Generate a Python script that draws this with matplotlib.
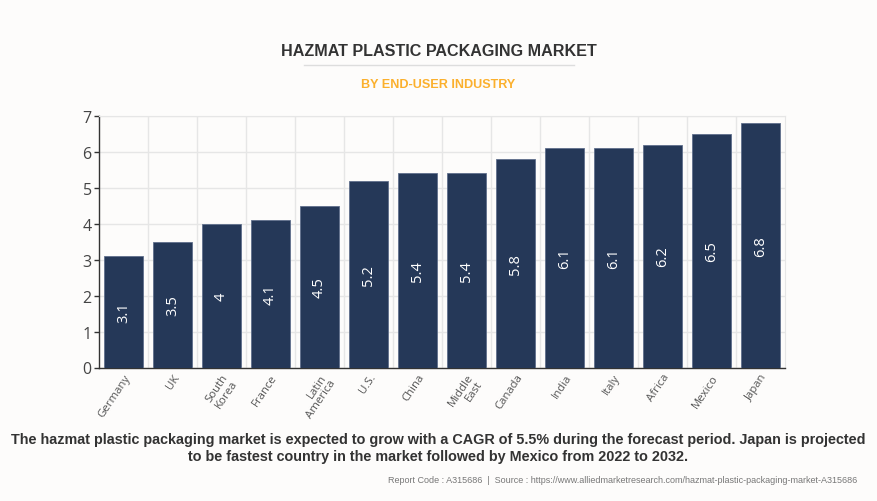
import matplotlib
matplotlib.use('Agg')
from matplotlib import pyplot as plt
from matplotlib.transforms import ScaledTranslation

countries = ['Germany', 'UK', 'South\nKorea', 'France', 'Latin\nAmerica', 'U.S.', 'China',
             'Middle\nEast', 'Canada', 'India', 'Italy', 'Africa', 'Mexico', 'Japan']
cagr = [3.1, 3.5, 4, 4.1, 4.5, 5.2, 5.4, 5.4, 5.8, 6.1, 6.1, 6.2, 6.5, 6.8]
y_ticks = [0, 1, 2, 3, 4, 5, 6, 7]

W, H = 877, 502
bg = '#fdfcfb'
plt.rcParams['font.family'] = ['Open Sans', 'DejaVu Sans']

fig = plt.figure(figsize=(W / 100, H / 100), dpi=100, facecolor=bg)
ax = fig.add_axes([99 / W, 1 - 368.5 / H, (785 - 99) / W, (368.5 - 117) / H])
ax.set_facecolor(bg)

xs = range(len(countries))
ax.bar(xs, cagr, width=0.8, color='#253858', edgecolor='#5f6f8c', linewidth=0.6, zorder=3)

# value labels sit in the middle of each bar
for x, v in zip(xs, cagr):
    ax.text(x, v / 2, str(v), rotation=90, ha='center', va='center', color='white',
            fontsize=10.5, zorder=4)

ax.set_xlim(-0.5, len(countries) - 0.5)
ax.set_ylim(0, 7)
ax.set_yticks(y_ticks)
ax.set_xticks([x - 0.5 for x in xs][1:], minor=True)
ax.set_xticks(list(xs))
ax.set_xticklabels(countries, rotation=56, ha='right', rotation_mode='anchor', fontsize=8.2,
                   color='#555555', linespacing=1.0)
# nudge the rotated labels a little to the left
nudge = ScaledTranslation(-2.5 / 100, 0, fig.dpi_scale_trans)
for lab in ax.get_xticklabels():
    lab.set_transform(lab.get_transform() + nudge)
ax.tick_params(axis='y', labelsize=11.5, labelcolor='#444444', length=3.6, width=1, color='#333333', pad=1.7)
ax.tick_params(axis='x', which='major', length=0, pad=3)
ax.tick_params(axis='x', which='minor', length=0)
ax.grid(True, axis='y', color='#e6e6e6', linewidth=1, zorder=0)
ax.grid(True, axis='x', which='minor', color='#e6e6e6', linewidth=1, zorder=0)

for s in ['top', 'right']:
    ax.spines[s].set_color('#e6e6e6')
for s in ['left', 'bottom']:
    ax.spines[s].set_color('#333333')
    ax.spines[s].set_linewidth(1)

arial = ['Liberation Sans', 'DejaVu Sans']
fig.text(438.5 / W, 1 - 52 / H, 'HAZMAT PLASTIC PACKAGING MARKET', ha='center', va='center',
         family=arial, fontsize=11.6, fontweight='bold', color='#333333')
fig.add_artist(plt.Line2D([304 / W, 574 / W], [1 - 65.5 / H] * 2, color='#dddddd', linewidth=1))
fig.text(438.5 / W, 1 - 85 / H, 'BY END-USER INDUSTRY', ha='center', va='center',
         family=arial, fontsize=9.1, fontweight='bold', color='#fbb02d')
fig.text(438.5 / W, 1 - 448.5 / H,
         'The hazmat plastic packaging market is expected to grow with a CAGR of 5.5% during the forecast period. Japan is projected\n'
         'to be fastest country in the market followed by Mexico from 2022 to 2032.',
         ha='center', va='center', family=arial, fontsize=10.4, fontweight='bold', color='#333333',
         linespacing=1.25)
fig.text(857 / W, 1 - 481 / H,
         'Report Code : A315686  |  Source : https://www.alliedmarketresearch.com/hazmat-plastic-packaging-market-A315686',
         ha='right', va='center', family=arial, fontsize=6.47, color='#777777')

fig.savefig('out.png', dpi=100, facecolor=bg)
